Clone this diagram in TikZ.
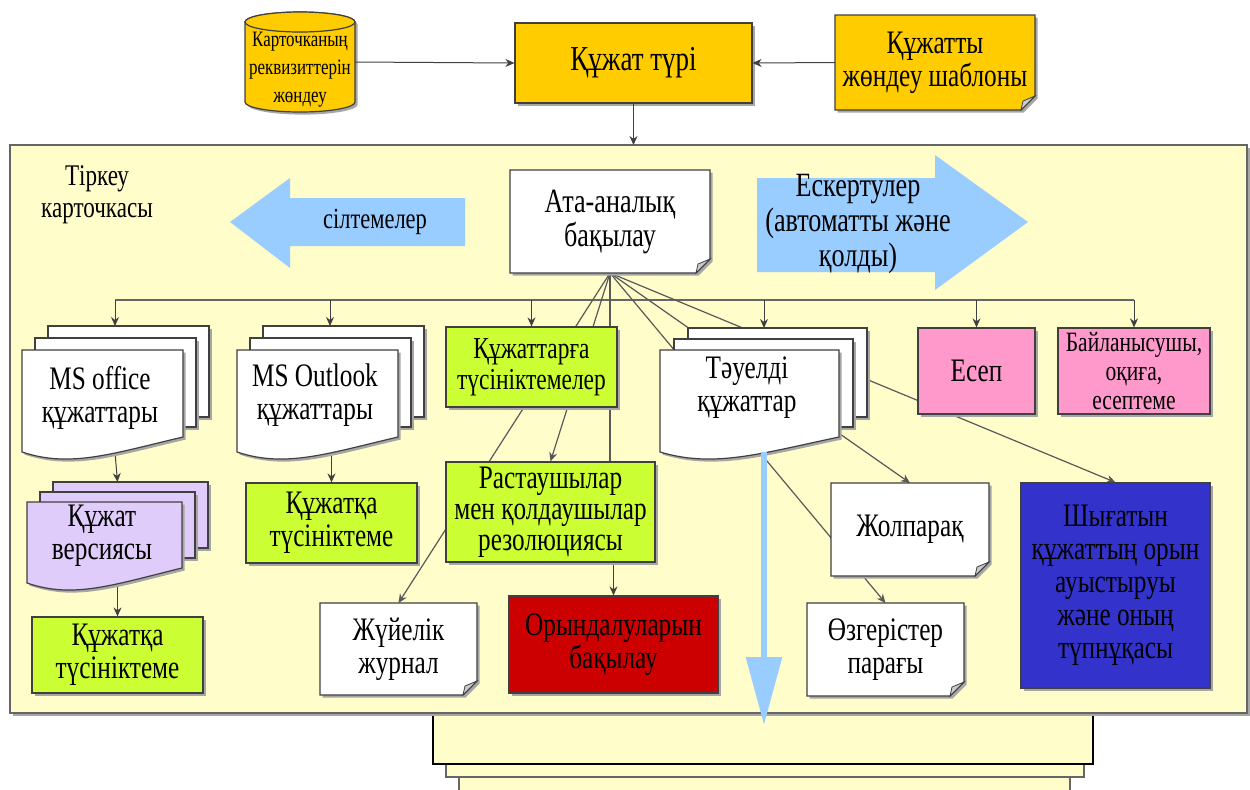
\documentclass[tikz,border=0pt]{standalone}
\usepackage{fontspec}
\setmainfont{Liberation Serif}[FakeStretch=0.77]
\usetikzlibrary{arrows.meta,shadows,calc}
\definecolor{cGold}{HTML}{FFCC00}
\definecolor{cFrame}{HTML}{FFFDCA}
\definecolor{cGreen}{HTML}{CCFF33}
\definecolor{cLav}{HTML}{E0CCFA}
\definecolor{cBlueL}{HTML}{99CCFF}
\definecolor{cPink}{HTML}{FF99CC}
\definecolor{cRed}{HTML}{CC0000}
\definecolor{cBlue}{HTML}{3333CC}
\definecolor{cLine}{HTML}{404040}
\newcommand\fz[2]{\fontsize{#1}{#2}\selectfont}
\pgfdeclarelayer{back}\pgfdeclarelayer{mid}\pgfsetlayers{back,mid,main}
\tikzset{
  shd/.style={drop shadow={shadow xshift=1.3pt,shadow yshift=-1.3pt,fill=black!35,opacity=1}},
  boxn/.style={draw=cLine, line width=0.6pt, shd, align=center, inner sep=1pt, font=\fz{16.4}{16.5}},
  ghost/.style={inner sep=0pt, outer sep=0pt},
  txt/.style={align=center, inner sep=0pt, font=\fz{16.4}{16.5}},
  shp/.style={draw=cLine, line width=0.6pt, shd},
  conn/.style={draw=cLine, line width=0.5pt, -{Stealth[length=4.5pt,width=4pt]}},
  fan/.style={draw=black!65, line width=0.6pt},
  fanarr/.style={fan, -{Stealth[length=4.5pt,width=4pt]}},
  bigarrow/.style={fill=cBlueL, draw=none},
}
\newcommand\notefig[5]{%
  \draw[shp, fill=#5] (#1,#2) -- (#3,#2) -- (#3,{#4-14}) -- ({#3-14},#4) -- (#1,#4) -- cycle;
  \draw[draw=cLine, line width=0.4pt, fill=black!20] ({#3-14},#4) -- ({#3-12},{#4-9}) -- (#3,{#4-14}) -- cycle;
}
\newcommand\docstack[7]{%
  \draw[shp, fill=#5] ({#1+2*#6},{#2-2*#7}) rectangle ({#3+2*#6},{#4-35});
  \draw[shp, fill=#5] ({#1+#6},{#2-#7}) rectangle ({#3+#6},{#4-25});
  \draw[shp, fill=#5] (#1,#2) -- (#3,#2) -- (#3,{#4-15}) .. controls ({#1+0.55*(#3-#1)},{#4+2}) and ({#1+0.3*(#3-#1)},{#4+16}) .. (#1,#4) -- cycle;
}
\begin{document}
\begin{tikzpicture}[x=0.5pt,y=-0.5pt]
\useasboundingbox (0,0) rectangle (1250,789);
\begin{pgfonlayer}{back}
\fill[white] (0,0) rectangle (1250,789);
\draw[fill=cFrame, draw=black!60, line width=0.8pt] (459,700) rectangle (1070,795);
\draw[fill=cFrame, draw=black!60, line width=0.8pt] (446,700) rectangle (1084,777);
\draw[fill=cFrame, draw=black, line width=0.9pt] (433,700) rectangle (1093,764);
\node[ghost, draw=black!60, line width=1pt, fill=cFrame, shd, minimum width=618.5pt, minimum height=284pt] (frame) at (628.5,429) {};
\end{pgfonlayer}

% ---------- top row
\draw[shp, fill=cGold] (245,22) -- (245,102) arc[start angle=180,end angle=360,x radius=27.5pt,y radius=5pt] -- (355,22) arc[start angle=0,end angle=180,x radius=27.5pt,y radius=5pt] -- cycle;
\draw[draw=cLine, line width=0.6pt, fill=cGold] (300,22) ellipse[x radius=27.5pt, y radius=5pt];
\node[ghost, minimum width=55pt, minimum height=50pt] (cyl) at (300,62) {};
\node[txt, font=\fz{11}{14}] (cylt) at (300,70) {Карточканың\\реквизиттерін\\жөндеу};
\node[boxn, fill=cGold, minimum width=118.5pt, minimum height=40pt, font=\fz{17.5}{18}] (kt) at (633.5,63) {Құжат түрі};
\notefig{835}{15}{1035}{110}{cGold}
\node[ghost, txt, minimum width=100pt, minimum height=47.5pt] (shab) at (935,62.5) {Құжатты\\жөндеу шаблоны};

% ---------- inside frame
\node[txt, font=\fz{15}{16}] (tirk) at (97,195) {Тіркеу\\карточкасы};
\draw[bigarrow] (230,222) -- (290,178) -- (290,198) -- (465,198) -- (465,246) -- (290,246) -- (290,268) -- cycle;
\node[txt, font=\fz{14.6}{15}] (silt) at (375,222) {сілтемелер};
\draw[bigarrow] (757,178) -- (935,178) -- (935,155) -- (1028,222) -- (935,290) -- (935,272) -- (757,272) -- cycle;
\node[txt, font=\fz{17}{17.5}] (esk) at (858,224) {Ескертулер\\(автоматты және\\қолды)};

\notefig{510}{170}{710}{273}{white}
\node[ghost, txt, font=\fz{17}{17}, minimum width=100pt, minimum height=51.5pt] (ata) at (610,221.5) {Ата-аналық\\бақылау};

% stacks
\docstack{22}{350}{183}{452}{white}{13}{12}
\node[ghost, minimum width=93pt, minimum height=63pt] (msA) at (115,389) {};
\node[txt] (msAt) at (100,398) {MS office\\құжаттары};
\docstack{237}{350}{398}{452}{white}{13}{12}
\node[ghost, minimum width=93pt, minimum height=63pt] (msB) at (330,389) {};
\node[txt] (msBt) at (315,395) {MS Outlook\\құжаттары};
\docstack{660}{350}{839}{452}{white}{14}{11}
\node[ghost, minimum width=104pt, minimum height=62pt] (taue) at (764,390) {};
\node[txt] (tauet) at (747,388) {Тәуелді\\құжаттар};
\docstack{27}{502}{182}{583}{cLav}{13}{10}
\node[ghost, minimum width=90.5pt, minimum height=50.5pt] (ver) at (117.5,532.5) {};
\node[txt] (vert) at (102,536) {Құжат\\версиясы};

% boxes
\node[boxn, fill=cGreen, minimum width=85.5pt, minimum height=40pt, font=\fz{15.2}{15.5}] (kcomm) at (531.5,367) {Құжаттарға\\түсініктемелер};
\node[boxn, fill=cPink, minimum width=58.5pt, minimum height=43pt] (esep) at (976.5,371) {Есеп};
\node[boxn, fill=cPink, minimum width=76pt, minimum height=43pt, font=\fz{14}{14.5}] (bayl) at (1134,371) {Байланысушы,\\оқиға,\\есептеме};
\node[boxn, fill=cGreen, minimum width=85.5pt, minimum height=38pt] (comm1) at (117.5,655) {Құжатқа\\түсініктеме};
\node[boxn, fill=cGreen, minimum width=85.5pt, minimum height=40pt] (comm2) at (331.5,523) {Құжатқа\\түсініктеме};
\node[boxn, fill=cGreen, minimum width=104.5pt, minimum height=50pt, font=\fz{16.4}{15.6}] (rastau) at (550.5,512) {Растаушылар\\мен қолдаушылар\\резолюциясы};
\node[boxn, fill=cRed, minimum width=104.5pt, minimum height=48.5pt] (orynd) at (613.5,644.5) {Орындалуларын\\бақылау};
\node[boxn, fill=cBlue, minimum width=94.5pt, minimum height=102.5pt] (shyg) at (1115.5,585.5) {Шығатын\\құжаттың орын\\ауыстыруы\\және оның\\түпнұқасы};

\notefig{320}{603}{477}{695}{white}
\node[ghost, txt, minimum width=78.5pt, minimum height=46pt] (zhuy) at (398.5,649) {Жүйелік\\журнал};
\notefig{831}{483}{989}{576}{white}
\node[ghost, txt, minimum width=79pt, minimum height=46.5pt] (zholp) at (910,529.5) {Жолпарақ};
\notefig{807}{603}{964}{696}{white}
\node[ghost, txt, minimum width=78.5pt, minimum height=46.5pt] (ozger) at (885.5,649.5) {Өзгерістер\\парағы};

% big down arrow
\coordinate (downtip) at (763,725);
\draw[cBlueL, line width=3pt, -{Triangle[length=34pt,width=17.5pt]}] (taue.south) -- (taue.south |- downtip);

% ---------- connectors
\draw[conn] (cyl.east) -- (kt.west);
\draw[conn] (shab.west) -- (kt.east);
\draw[conn] (kt.south) -- (kt.south |- frame.north);

\begin{pgfonlayer}{mid}
\coordinate (bus) at (0,300);
\draw[draw=black!60, line width=1pt] (msA.north |- bus) -- (bayl.north |- bus);
\foreach \n in {msA,msB,kcomm,taue,esep,bayl}
  \draw[conn] (\n.north |- bus) -- (\n.north);
\draw[fan] (ata.south) -- (ata.south |- rastau.north);
\draw[fanarr] (ata.south) -- (zhuy.north);
\draw[fanarr] (ata.south) -- (rastau.north);
\draw[fanarr] (ata.south) -- (ozger.north);
\draw[fanarr] (ata.south) -- (zholp.north);
\draw[fanarr] (ata.south) -- (shyg.north);
\draw[conn] (msA.south) -- (ver.north);
\draw[conn] (comm2.north |- msB.south) -- (comm2.north);
\draw[conn] (ver.south) -- (comm1.north);
\draw[conn] (orynd.north |- rastau.south) -- (orynd.north);
\end{pgfonlayer}
\end{tikzpicture}
\end{document}
